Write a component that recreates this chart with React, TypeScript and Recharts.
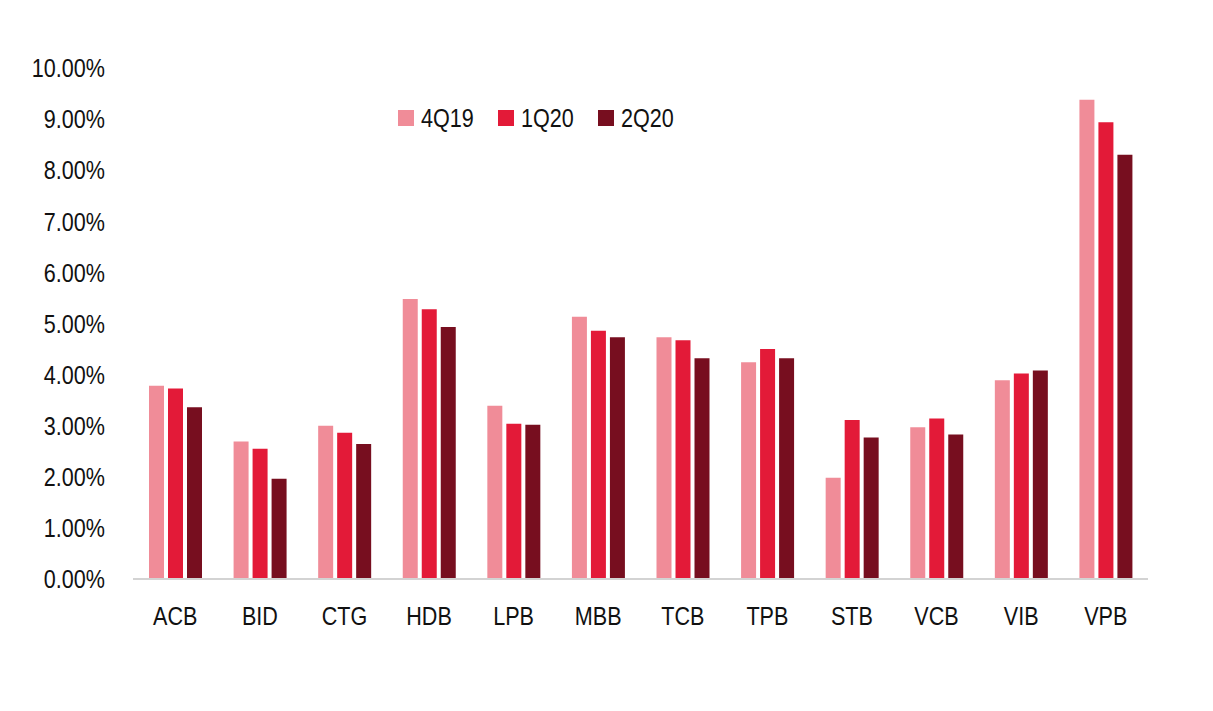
import React from "react";
import { BarChart, Bar, XAxis, YAxis } from "recharts";

const categories = ["ACB", "BID", "CTG", "HDB", "LPB", "MBB", "TCB", "TPB", "STB", "VCB", "VIB", "VPB"];
const q4_19 = [3.78, 2.69, 3.0, 5.48, 3.39, 5.13, 4.73, 4.24, 1.98, 2.97, 3.89, 9.38];
const q1_20 = [3.73, 2.55, 2.86, 5.28, 3.04, 4.86, 4.67, 4.5, 3.11, 3.14, 4.02, 8.94];
const q2_20 = [3.36, 1.96, 2.64, 4.93, 3.02, 4.73, 4.32, 4.32, 2.77, 2.83, 4.08, 8.3];
const yTicks = [0, 1, 2, 3, 4, 5, 6, 7, 8, 9, 10];
const seriesNames = ["4Q19", "1Q20", "2Q20"];
const seriesColors = ["#F08C98", "#E31A38", "#770E1F"];

const data = categories.map((c, i) => ({
  name: c,
  "4Q19": q4_19[i],
  "1Q20": q1_20[i],
  "2Q20": q2_20[i],
}));

const FONT = "'Liberation Sans', Arial, sans-serif";
const FS = 26;
const SX = 0.83;

const YTick = (props: any) => {
  const { x, y, payload } = props;
  return (
    <g transform={`translate(${x},${y})`}>
      <text transform={`scale(${SX},1)`} textAnchor="end" dy="0.355em" fill="#111" fontSize={FS} fontFamily={FONT}>
        {Number(payload.value).toFixed(2) + "%"}
      </text>
    </g>
  );
};

const XTick = (props: any) => {
  const { x, y, payload } = props;
  return (
    <g transform={`translate(${x},${y})`}>
      <text transform={`scale(${SX},1)`} textAnchor="middle" dy="0.71em" fill="#111" fontSize={FS} fontFamily={FONT}>
        {payload.value}
      </text>
    </g>
  );
};

export default function App() {
  return (
    <div style={{ position: "fixed", left: 0, top: 0, width: 1213, height: 711, background: "#fff" }}>
      <BarChart
        width={1213}
        height={711}
        data={data}
        margin={{ top: 68, right: 65, bottom: 72, left: 33 }}
        barSize={15}
        barGap={4}
      >
        <XAxis
          dataKey="name"
          height={60}
          tickLine={false}
          tickSize={0}
          tickMargin={28}
          axisLine={{ stroke: "#d3d3d3", strokeWidth: 2 }}
          tick={<XTick />}
          interval={0}
        />
        <YAxis
          width={100}
          domain={[0, 10]}
          ticks={yTicks}
          axisLine={false}
          tickLine={false}
          tickSize={0}
          tickMargin={28}
          tick={<YTick />}
          interval={0}
        />
        {seriesNames.map((n, i) => (
          <Bar key={n} dataKey={n} fill={seriesColors[i]} isAnimationActive={false} />
        ))}
      </BarChart>
      <div
        style={{
          position: "absolute",
          left: 398,
          top: 104,
          display: "flex",
          alignItems: "center",
          fontFamily: FONT,
          fontSize: FS,
          color: "#111",
          lineHeight: "28px",
        }}
      >
        {seriesNames.map((n, i) => (
          <div key={n} style={{ display: "flex", alignItems: "center", width: 100 }}>
            <div style={{ width: 16, height: 16, background: seriesColors[i], marginRight: 7 }} />
            <span style={{ display: "inline-block", transform: `scaleX(${SX})`, transformOrigin: "left center" }}>{n}</span>
          </div>
        ))}
      </div>
    </div>
  );
}
